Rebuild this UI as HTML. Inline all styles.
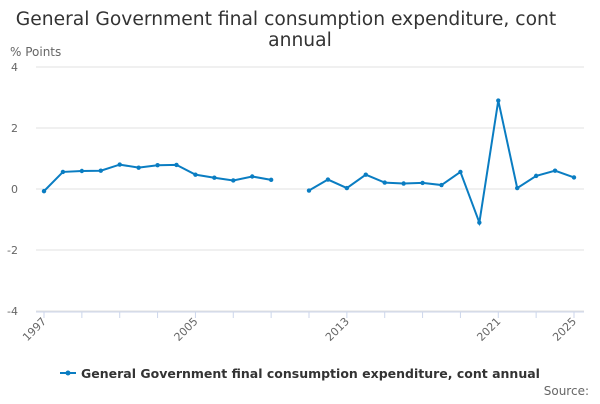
<!DOCTYPE html>
<html><head><meta charset="utf-8"><style>
body{margin:0;background:#fff;font-family:"DejaVu Sans",sans-serif}
</style></head><body>
<svg width="600" height="400" xmlns="http://www.w3.org/2000/svg" font-family="DejaVu Sans, sans-serif">
<text x="286" y="25" text-anchor="middle" font-size="18.7" fill="#333">General Government final consumption expenditure, cont</text>
<text x="300" y="46" text-anchor="middle" font-size="18.7" fill="#333">annual</text>
<text x="10" y="56" font-size="12" fill="#666">% Points</text>
<g id="grid"></g>
<g id="xaxis"></g>
<g id="series"></g>
<g>
<line x1="60" y1="373" x2="76" y2="373" stroke="#0a7dc2" stroke-width="2"/>
<circle cx="68" cy="373" r="2.5" fill="#0a7dc2"/>
<text x="81" y="378" font-size="12.5" font-weight="bold" fill="#333">General Government final consumption expenditure, cont annual</text>
</g>
<text x="589" y="395" text-anchor="end" font-size="12" fill="#666">Source:</text>
</svg>
<script>
const years=[1997,1998,1999,2000,2001,2002,2003,2004,2005,2006,2007,2008,2009,2010,2011,2012,2013,2014,2015,2016,2017,2018,2019,2020,2021,2022,2023,2024,2025];
const values=[-0.07,0.56,0.59,0.6,0.8,0.7,0.78,0.79,0.47,0.37,0.28,0.41,0.3,null,-0.05,0.31,0.03,0.47,0.21,0.18,0.2,0.13,0.56,-1.1,2.9,0.03,0.43,0.6,0.38];
const yTicks=[-4,-2,0,2,4];
const xLabels=[1997,2005,2013,2021,2025];
const NS="http://www.w3.org/2000/svg";
const x=v=>44+(v-1997)*(574-44)/28;
const y=v=>189-v*30.5;
function mk(t,a,p){const e=document.createElementNS(NS,t);for(const k in a)e.setAttribute(k,a[k]);p.appendChild(e);return e;}
const grid=document.getElementById('grid');
yTicks.forEach(t=>{
 const l=mk('line',{x1:36,x2:584,y1:y(t),y2:y(t),stroke:'#e0e0e0'},grid);
 
 
 const tx=mk('text',{x:18,y:y(t)+4,'font-size':11,fill:'#666','text-anchor':'end'},grid);
 tx.textContent=t;
 
 
});
const xa=document.getElementById('xaxis');
const ax=mk('line',{x1:36,x2:584,y1:312,y2:312,stroke:'#ccd6eb'},xa);


for(let yr=1997;yr<=2025;yr+=2){
 const tk=mk('line',{x1:x(yr),x2:x(yr),y1:312,y2:318,stroke:'#ccd6eb'},xa);
 
 
}
xLabels.forEach(yr=>{
 const tx=mk('text',{x:x(yr)+3,y:322,'font-size':11,fill:'#666','text-anchor':'end',transform:`rotate(-45 ${x(yr)+3} 322)`},xa);
 tx.textContent=yr;
 
 
});
const s=document.getElementById('series');
let d='',pen=false;
years.forEach((yr,i)=>{const v=values[i];if(v===null){pen=false;return;}d+=(pen?'L':'M')+x(yr)+' '+y(v)+' ';pen=true;});
const p=mk('path',{d:d,fill:'none',stroke:'#0a7dc2','stroke-width':2},s);


years.forEach((yr,i)=>{const v=values[i];if(v===null)return;
 const c=mk('circle',{cx:x(yr),cy:y(v),r:2.2,fill:'#0a7dc2'},s);
 
 
});
</script>
</body></html>
